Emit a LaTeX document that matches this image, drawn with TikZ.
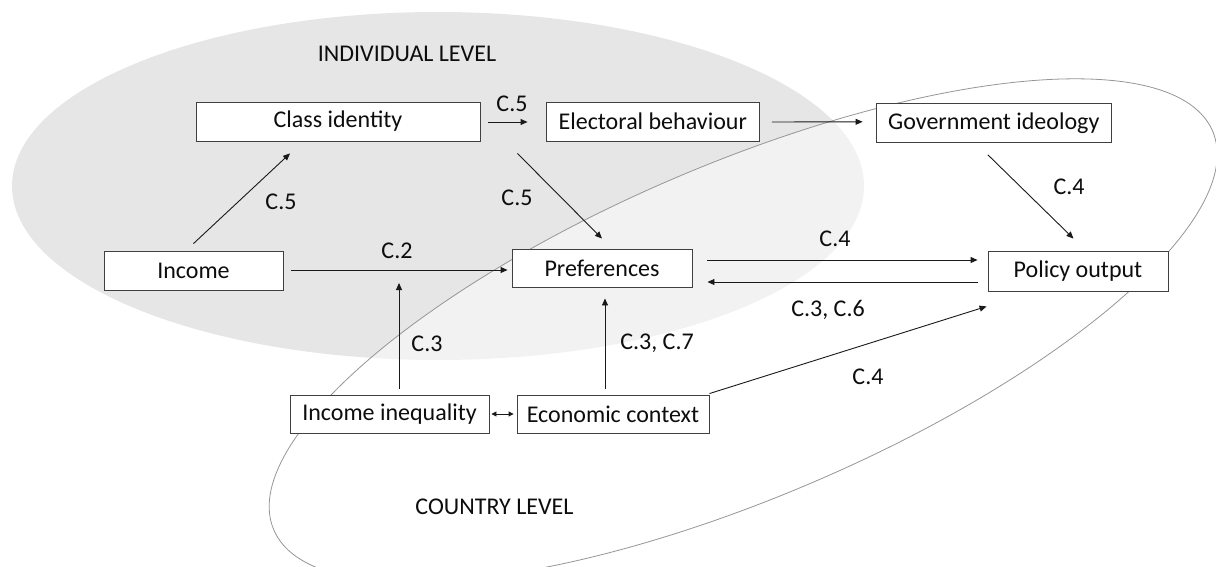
\documentclass[tikz,border=0pt]{standalone}
\usepackage{fontspec}
\setmainfont{Carlito}
\usetikzlibrary{arrows.meta,calc}
\definecolor{lvlgray}{RGB}{230,230,230}
\definecolor{rimgray}{RGB}{150,150,150}
\definecolor{boxline}{RGB}{64,64,64}
\definecolor{txt}{RGB}{13,13,13}
\begin{document}
\begin{tikzpicture}[x=1pt,y=-1pt,
  every node/.style={font=\fontsize{24}{28}\selectfont, text=txt},
  box/.style={draw=boxline, line width=0.9pt, fill=white, inner sep=0pt},
  arr/.style={draw=black!90, line width=0.9pt, -{Triangle[length=7pt,width=6pt]}},
  darr/.style={draw=black!90, line width=0.9pt, {Triangle[length=5pt,width=5pt]}-{Triangle[length=5pt,width=5pt]}},
  lbl/.style={inner sep=0pt}]
\clip (0,0) rectangle (1216,567);
% level ellipses
\fill[lvlgray] (438,186) ellipse [x radius=426pt, y radius=174pt];
\begin{scope}[shift={(743.2,330.5)}, rotate=23]
\path[draw=rimgray, line width=0.8pt, fill=white, fill opacity=0.5]
  (0,0) ellipse [x radius=510pt, y radius=167pt];
\end{scope}
\node[lbl] (indiv) at (407,54) {INDIVIDUAL LEVEL};
\node[lbl] (country) at (494.5,507) {COUNTRY LEVEL};
% boxes
\node[box, minimum width=284pt, minimum height=39pt] (class) at (338,121.5) {Class identity};
\node[box, minimum width=213.5pt, minimum height=39pt] (elect) at (652.75,121.5) {Electoral behaviour};
\node[box, minimum width=235.6pt, minimum height=39pt] (gov) at (993.8,122.8) {Government ideology};
\node[box, minimum width=179pt, minimum height=39pt] (income) at (193.5,270.5) {Income};
\node[box, minimum width=180pt, minimum height=38pt] (pref) at (602,268) {Preferences};
\node[box, minimum width=180pt, minimum height=40pt] (policy) at (1078,271) {Policy output};
\node[box, minimum width=199pt, minimum height=38pt] (ineq) at (389.5,414) {Income inequality};
\node[box, minimum width=192pt, minimum height=38pt] (econ) at (613,414) {Economic context};
\coordinate (c3tip) at (399,283);
% connectors
\draw[arr] ($(class.east)+(8,0.5)$) -- ($(elect.west)+(-18,0.5)$);
\draw[arr] ($(elect.east)+(12,0.5)$) -- ($(gov.west)+(-13,-1)$);
\draw[arr] ($(income.north)+(0,-7)$) -- ($(class.south)+(-48,12)$);
\draw[arr] ($(class.south east)+(37,12)$) -- ($(pref.north)+(0,-10)$);
\draw[arr] ($(income.east)+(8,-0.5)$) -- ($(pref.west)+(-4,2)$);
\draw[arr] ($(gov.south)+(-6,12)$) -- ($(policy.north)+(-4.5,-12)$);
\draw[arr] ($(pref.east)+(15,-8)$) -- ($(policy.west)+(-10,-11)$);
\draw[arr] ($(policy.west)+(-10,11)$) -- ($(pref.east)+(15,14)$);
\draw[arr] ($(ineq.north)+(9.5,-6)$) -- (c3tip);
\draw[arr] ($(econ.north)+(-8,-6)$) -- ($(pref.south)+(3,11)$);
\draw[darr] ($(ineq.east)+(2,0)$) -- ($(econ.west)+(-3,0)$);
\draw[arr] ($(econ.north east)+(0,-1)$) -- ($(policy.south west)+(-1,15)$);
% labels
\node[lbl] (l1) at (512,104) {C.5};
\node[lbl] (l2) at (281,202) {C.5};
\node[lbl] (l3) at (517,198) {C.5};
\node[lbl] (l4) at (397,251) {C.2};
\node[lbl] (l5) at (1069,187) {C.4};
\node[lbl] (l6) at (835,239) {C.4};
\node[lbl] (l7) at (828,310) {C.3, C.6};
\node[lbl] (l8) at (427,344) {C.3};
\node[lbl] (l9) at (657,343) {C.3, C.7};
\node[lbl] (l10) at (868,377) {C.4};
\end{tikzpicture}
\end{document}
